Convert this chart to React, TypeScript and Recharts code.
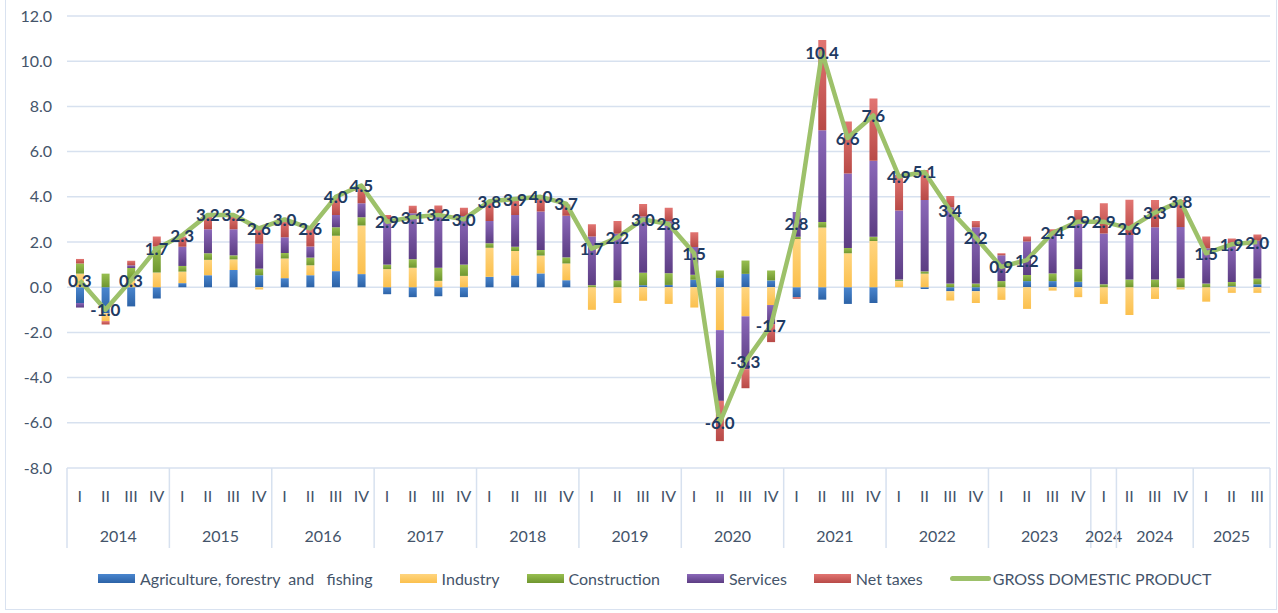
import {
  ComposedChart,
  Bar,
  Line,
  XAxis,
  YAxis,
  CartesianGrid,
  Legend,
  LabelList,
} from "recharts";

const FONT = "Lato, 'Open Sans', sans-serif";
const TEXT = "#44546A";
const GRID = "#d7e1ef";

const quarters = [
  "I", "II", "III", "IV", "I", "II", "III", "IV", "I", "II", "III", "IV",
  "I", "II", "III", "IV", "I", "II", "III", "IV", "I", "II", "III", "IV",
  "I", "II", "III", "IV", "I", "II", "III", "IV", "I", "II", "III", "IV",
  "I", "II", "III", "IV", "I", "II", "III", "IV", "I", "II", "III",
];

// year groups along the axis (the source splits 2024 into I | II-IV)
const yearLabels = ["2014", "2015", "2016", "2017", "2018", "2019", "2020", "2021", "2022", "2023", "2024", "2024", "2025"];
const yearSizes = [4, 4, 4, 4, 4, 4, 4, 4, 4, 4, 1, 3, 3];

const agriculture = [
  -0.7, -1.15, -0.85, -0.5, 0.18, 0.53, 0.76, 0.53, 0.4, 0.53, 0.71, 0.58,
  -0.31, -0.44, -0.4, -0.44, 0.46, 0.52, 0.61, 0.31, 0, 0, 0.09, 0.1,
  0.33, 0.41, 0.59, 0.3, -0.44, -0.55, -0.74, -0.7, 0, -0.08, -0.18, -0.18,
  0, 0.27, 0.27, 0.24, 0, 0, 0, 0, 0, 0.04, 0.13,
];
const industry = [
  0.6, -0.35, 0.3, 0.65, 0.51, 0.68, 0.47, -0.1, 0.87, 0.44, 1.57, 2.15,
  0.8, 0.86, 0.28, 0.5, 1.29, 1.08, 0.79, 0.74, -1.0, -0.7, -0.6, -0.74,
  -0.9, -1.9, -1.29, -0.79, 2.13, 2.64, 1.5, 2.04, 0.28, 0.6, -0.41, -0.52,
  -0.56, -0.96, -0.15, -0.44, -0.74, -1.23, -0.52, -0.1, -0.64, -0.25, -0.25,
];
const construction = [
  0.45, 0.6, 0.55, 1.15, 0.25, 0.29, 0.18, 0.29, 0.24, 0.34, 0.37, 0.37,
  0.2, 0.38, 0.58, 0.5, 0.19, 0.19, 0.25, 0.27, 0.09, 0.3, 0.55, 0.52,
  0.22, 0.33, 0.59, 0.44, 0.1, 0.24, 0.24, 0.19, 0.06, 0.1, 0.16, 0.16,
  0.27, 0.27, 0.34, 0.56, 0.13, 0.34, 0.34, 0.39, 0.16, 0.19, 0.25,
];
const services = [
  -0.2, 0, 0.12, 0, 0.85, 1.06, 1.15, 1.1, 0.7, 0.49, 0.55, 0.62,
  1.97, 2.03, 2.38, 2.15, 0.99, 1.41, 1.7, 1.84, 2.15, 2.07, 2.49, 2.3,
  1.23, -3.13, -2.34, -0.84, 1.1, 4.06, 3.29, 3.36, 3.05, 3.16, 3.38, 2.49,
  1.14, 1.48, 1.7, 2.03, 2.25, 1.97, 2.31, 2.27, 1.56, 1.63, 1.67,
];
const netTaxes = [
  0.2, -0.15, 0.2, 0.44, 0.45, 0.6, 0.6, 0.75, 0.75, 0.8, 0.75, 0.75,
  0.22, 0.33, 0.37, 0.37, 0.85, 0.7, 0.65, 0.5, 0.55, 0.56, 0.55, 0.59,
  0.65, -1.78, -0.84, -0.8, -0.07, 4.0, 2.3, 2.76, 1.58, 1.33, 0.5, 0.28,
  0.09, 0.22, 0.25, 0.59, 1.33, 1.56, 1.21, 1.2, 0.52, 0.3, 0.28,
];
const gdp = [
  0.3, -1.0, 0.3, 1.7, 2.3, 3.2, 3.2, 2.6, 3.0, 2.6, 4.0, 4.5,
  2.9, 3.1, 3.2, 3.0, 3.8, 3.9, 4.0, 3.7, 1.7, 2.2, 3.0, 2.8,
  1.5, -6.0, -3.3, -1.7, 2.8, 10.4, 6.6, 7.6, 4.9, 5.1, 3.4, 2.2,
  0.9, 1.2, 2.4, 2.9, 2.9, 2.6, 3.3, 3.8, 1.5, 1.9, 2.0,
];

const yTicks = [-8, -6, -4, -2, 0, 2, 4, 6, 8, 10, 12];

const series = [
  { key: "agriculture", name: "Agriculture, forestry  and   fishing", top: "#4a86cf", bottom: "#2c62a6" },
  { key: "industry", name: "Industry", top: "#ffd57f", bottom: "#fbc04e" },
  { key: "construction", name: "Construction", top: "#98bf50", bottom: "#6f962f" },
  { key: "services", name: "Services", top: "#8b68b9", bottom: "#5c3d83" },
  { key: "netTaxes", name: "Net taxes", top: "#e27572", bottom: "#b84a47" },
];

const data = quarters.map((q, i) => ({
  q: `${q}-${i}`,
  agriculture: agriculture[i],
  industry: industry[i],
  construction: construction[i],
  services: services[i],
  netTaxes: netTaxes[i],
  gdp: gdp[i],
}));

// group starts along the category axis
const groupAt: Record<number, { label: string; size: number }> = {};
{
  let s = 0;
  yearLabels.forEach((label, g) => {
    groupAt[s] = { label, size: yearSizes[g] };
    s += yearSizes[g];
  });
}

const W = 1278;
const H = 613;
const M = { top: 16, right: 8, left: 0, bottom: 65 };
const Y_W = 67;
const AXIS_H = 80;
const STEP = (W - M.left - M.right - Y_W) / quarters.length;

function XTick(props: any) {
  const { x, y, payload } = props;
  const i = payload.index;
  const step = payload.offset ? payload.offset * 2 : STEP;
  const half = step / 2;
  const g = groupAt[i];
  return (
    <g>
      <text x={x} y={y + 27} textAnchor="middle" dominantBaseline="central" fill={TEXT} fontSize={16} fontFamily={FONT}>
        {quarters[i]}
      </text>
      {g && (
        <>
          <line x1={x - half} x2={x - half} y1={y} y2={y + AXIS_H} stroke={GRID} strokeWidth={1.5} />
          <text x={x + ((g.size - 1) * step) / 2} y={y + 67} textAnchor="middle" dominantBaseline="central" fill={TEXT} fontSize={16} fontFamily={FONT}>
            {g.label}
          </text>
        </>
      )}
      {i === quarters.length - 1 && (
        <line x1={x + half} x2={x + half} y1={y} y2={y + AXIS_H} stroke={GRID} strokeWidth={1.5} />
      )}
    </g>
  );
}

function GdpLabel(props: any) {
  const { x, y, value } = props;
  return (
    <text x={x} y={y} textAnchor="middle" dominantBaseline="central" fill="#1f3a62" fontSize={17} fontWeight={700} fontFamily={FONT}>
      {Number(value).toFixed(1)}
    </text>
  );
}

function LegendBox() {
  return (
    <div style={{ display: "flex", alignItems: "center", paddingLeft: 98, height: 26, fontFamily: FONT, fontSize: 16, color: TEXT }}>
      {series.map((s) => (
        <div key={s.key} style={{ display: "flex", alignItems: "center", marginRight: 27 }}>
          <div style={{ width: 37, height: 9, background: `linear-gradient(${s.top}, ${s.bottom})`, marginRight: 5 }} />
          <span style={{ whiteSpace: "pre" }}>{s.name}</span>
        </div>
      ))}
      <div style={{ display: "flex", alignItems: "center" }}>
        <div style={{ width: 41, height: 5, borderRadius: 3, background: "#9dc16a", marginRight: 2 }} />
        <span>GROSS DOMESTIC PRODUCT</span>
      </div>
    </div>
  );
}

export default function App() {
  return (
    <div style={{ position: "absolute", left: 0, top: 0, width: W, height: H, background: "#fff", overflow: "hidden" }}>
      <div
        style={{
          position: "absolute",
          left: 5,
          top: -2,
          width: W - 6,
          height: H - 1,
          border: "1.5px solid #d9e2f0",
          boxSizing: "border-box",
        }}
      />
      <ComposedChart width={W} height={H} data={data} margin={M} stackOffset="sign">
        <defs>
          {series.map((s) => (
            <linearGradient key={s.key} id={`g-${s.key}`} x1="0" y1="0" x2="0" y2="1">
              <stop offset="0%" stopColor={s.top} />
              <stop offset="100%" stopColor={s.bottom} />
            </linearGradient>
          ))}
        </defs>
        <CartesianGrid vertical={false} stroke={GRID} strokeWidth={1.5} />
        <XAxis
          dataKey="q"
          interval={0}
          height={AXIS_H}
          axisLine={false}
          tickLine={false}
          tickSize={0}
          tickMargin={0}
          tick={<XTick />}
        />
        <YAxis
          domain={[-8, 12]}
          ticks={yTicks}
          width={Y_W}
          axisLine={false}
          tickLine={false}
          tickSize={0}
          tickMargin={15}
          allowDataOverflow
          tickFormatter={(v: number) => v.toFixed(1)}
          tick={{ fill: TEXT, fontSize: 16, fontFamily: FONT }}
        />
        <Legend
          layout="horizontal"
          verticalAlign="middle"
          align="center"
          wrapperStyle={{ top: 565, left: 0, width: W, height: 26 }}
          content={() => <LegendBox />}
        />
        {series.map((s) => (
          <Bar
            key={s.key}
            dataKey={s.key}
            name={s.name}
            stackId="a"
            barSize={8}
            fill={`url(#g-${s.key})`}
            isAnimationActive={false}
          />
        ))}
        <Line
          dataKey="gdp"
          name="GROSS DOMESTIC PRODUCT"
          type="linear"
          stroke="#9dc16a"
          strokeWidth={4.5}
          strokeLinejoin="round"
          dot={false}
          activeDot={false}
          isAnimationActive={false}
        >
          <LabelList dataKey="gdp" content={<GdpLabel />} />
        </Line>
      </ComposedChart>
    </div>
  );
}
